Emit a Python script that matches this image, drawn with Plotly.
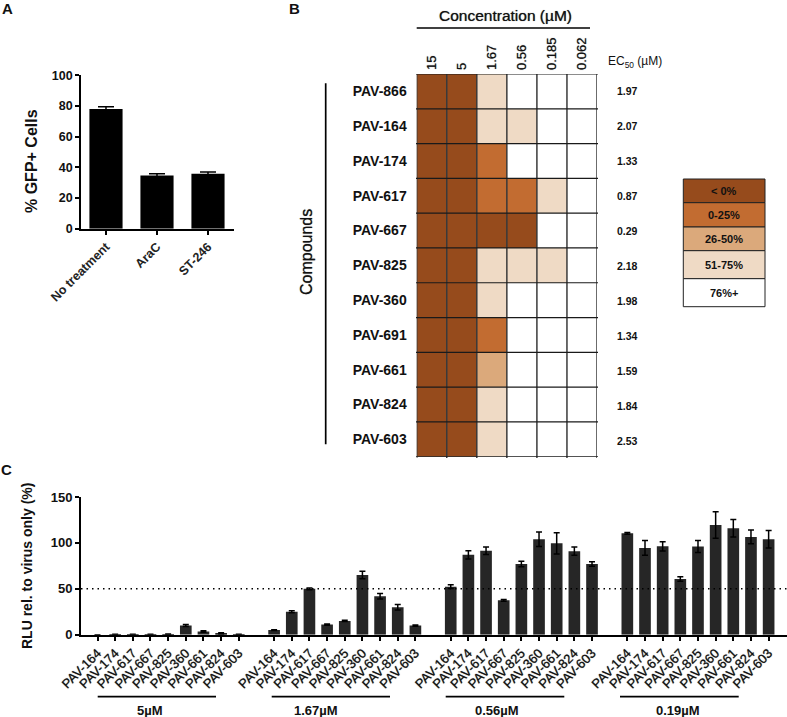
import plotly.graph_objects as go

W, H = 787, 717
FONT = "Liberation Sans"
HEAVY = "0 0 0.8px rgba(0,0,0,0.7)"

# Panel A
a_categories = ["No treatment", "AraC", "ST-246"]
a_values = [78, 34.7, 35.8]
a_errors = [1.5, 1.2, 1.2]

# Panel B
b_concentrations = ["15", "5", "1.67", "0.56", "0.185", "0.062"]
b_compounds = ["PAV-866", "PAV-164", "PAV-174", "PAV-617", "PAV-667", "PAV-825",
               "PAV-360", "PAV-691", "PAV-661", "PAV-824", "PAV-603"]
b_ec50 = ["1.97", "2.07", "1.33", "0.87", "0.29", "2.18", "1.98", "1.34", "1.59", "1.84", "2.53"]
# 0: <0%, 1: 0-25%, 2: 26-50%, 3: 51-75%, 4: 76%+
b_classes = [
    [0, 0, 3, 4, 4, 4],
    [0, 0, 3, 3, 4, 4],
    [0, 0, 1, 4, 4, 4],
    [0, 0, 1, 1, 3, 4],
    [0, 0, 0, 0, 4, 4],
    [0, 0, 3, 3, 3, 4],
    [0, 0, 3, 4, 4, 4],
    [0, 0, 1, 4, 4, 4],
    [0, 0, 2, 4, 4, 4],
    [0, 0, 3, 4, 4, 4],
    [0, 0, 3, 4, 4, 4],
]
legend_labels = ["< 0%", "0-25%", "26-50%", "51-75%", "76%+"]
legend_colors = ["#964B1C", "#C26C31", "#DBA97B", "#EFDAC5", "#FFFFFF"]

# Panel C
c_compounds = ["PAV-164", "PAV-174", "PAV-617", "PAV-667", "PAV-825",
               "PAV-360", "PAV-661", "PAV-824", "PAV-603"]
c_groups = ["5µM", "1.67µM", "0.56µM", "0.19µM"]
c_5 = [0, 0.2, 0.2, 0.2, 0.4, 10, 3.5, 1.5, 0.2]
c_5_err = [0, 0.3, 0.3, 0.3, 0.4, 1, 0.8, 0.7, 0.3]
c_167 = [5, 25, 50, 11, 15, 65, 42, 30, 10]
c_167_err = [0.5, 1, 1, 0.7, 0.7, 4, 3, 3, 0.7]
c_056 = [52.3, 87, 91.5, 37.4, 77, 104, 99.5, 91, 77]
c_056_err = [2, 4.5, 4, 1, 3, 8, 11.5, 4.5, 2.5]
c_019 = [110.4, 94.5, 96.3, 60.7, 96, 119.5, 116, 106.5, 104]
c_019_err = [1, 8, 5, 2.5, 6.5, 14.5, 9.5, 7.5, 9.5]


def dx(a, b):
    return [a / W, b / W]


def dy(top, bottom):
    return [1 - bottom / H, 1 - top / H]


def px(x):
    return x / W


def py(y):
    return 1 - y / H


fig = go.Figure()

# Panel A
fig.add_trace(go.Bar(
    x=list(range(3)), y=a_values, width=0.65, marker=dict(color="#000000", line_width=0),
    error_y=dict(type="data", array=a_errors, color="#000000", thickness=1.5, width=8),
    xaxis="x", yaxis="y", showlegend=False))

# Panel B
fig.add_trace(go.Heatmap(
    z=b_classes, x=[i + 0.5 for i in range(6)], y=[i + 0.5 for i in range(11)],
    zmin=0, zmax=4, showscale=False, hoverinfo="skip",
    colorscale=[[i / 5 if j == 0 else (i + 1) / 5, c] for i, c in enumerate(legend_colors) for j in (0, 1)],
    xaxis="x2", yaxis="y2"))

# Panel C
c_vals = c_5 + [None] + c_167 + [None] + c_056 + [None] + c_019
c_errs = c_5_err + [0] + c_167_err + [0] + c_056_err + [0] + c_019_err
c_x = list(range(len(c_vals)))
fig.add_trace(go.Bar(
    x=c_x, y=c_vals, width=0.66, marker=dict(color="#262626", line_width=0),
    error_y=dict(type="data", array=c_errs, color="#000000", thickness=1.5, width=3),
    xaxis="x3", yaxis="y3", showlegend=False))
C_LEFT, C_RIGHT = -0.934, 39.04
fig.add_trace(go.Scatter(
    x=[C_LEFT, C_RIGHT], y=[50, 50], mode="lines", hoverinfo="skip",
    line=dict(color="#000000", width=1.5, dash="1.5px,4px"),
    xaxis="x3", yaxis="y3", showlegend=False))

axis_common = dict(showline=True, linecolor="#000000", linewidth=1.7, ticks="outside", automargin=False,
                   ticklen=4, tickwidth=1.5, tickcolor="#000000", showgrid=False, zeroline=False)

shapes = []
annotations = []


def text(x, y, s, size=12, bold=True, angle=0, color="#111111", shadow="none"):
    annotations.append(dict(xref="paper", yref="paper", x=px(x), y=py(y), text=f"<b>{s}</b>" if bold else s,
                            showarrow=False, textangle=angle, xanchor="center", yanchor="middle",
                            font=dict(family=FONT, size=size, color=color, shadow=shadow)))


def line(x0, y0, x1, y1, color="#000000", width=1.7):
    shapes.append(dict(type="line", xref="paper", yref="paper", x0=px(x0), x1=px(x1), y0=py(y0), y1=py(y1),
                       line=dict(color=color, width=width)))


# Panel B grid
for i in range(7):
    shapes.append(dict(type="line", xref="x2", yref="paper", x0=i, x1=i, y0=py(74), y1=py(458),
                       line=dict(color="#3a3a3a", width=1.5)))
for i in range(12):
    shapes.append(dict(type="line", xref="paper", yref="y2", x0=px(416), x1=px(598), y0=i, y1=i,
                       line=dict(color="#1a1a1a", width=1.2)))

# Panel B header and brackets
line(416.7, 28, 590, 28)
line(325.7, 83.3, 325.7, 444.3)
text(505.7, 15, "Concentration (µM)", size=15.5, bold=False, shadow=HEAVY)
text(635, 62, "EC<sub>50</sub> (µM)", size=12, bold=False)
text(306, 252, "Compounds", size=16, bold=False, angle=-90, shadow=HEAVY)
for i, val in enumerate(b_ec50):
    text(627, 91.5 + i * 34.95, val, size=10.5)

# Legend
legend_edges = [179, 202.7, 227, 250.7, 278.7, 306.7]
for i, (lab, col) in enumerate(zip(legend_labels, legend_colors)):
    shapes.append(dict(type="rect", xref="paper", yref="paper", x0=px(683.3), x1=px(765),
                       y0=py(legend_edges[i]), y1=py(legend_edges[i + 1]), fillcolor=col,
                       line=dict(color="#222222", width=1)))
    text(724, (legend_edges[i] + legend_edges[i + 1]) / 2, lab, size=11)

# Panel C group brackets
for (x0, x1), lab, lx in zip([(97.7, 216), (271.7, 390), (445.7, 564.3), (620, 738.7)], c_groups,
                             [150, 316, 497, 678]):
    line(x0, 696.7, x1, 696.7)
    text(lx, 710, lab, size=13)

# Titles and panel letters
text(32, 161, "% GFP+ Cells", size=16, angle=-90)
text(27, 566, "RLU rel. to virus only (%)", size=14, angle=-90)
text(7, 9, "A", size=15)
text(294, 9, "B", size=15)
text(6, 469, "C", size=15)

fig.update_layout(
    width=W, height=H, autosize=False, margin=dict(l=0, r=0, t=0, b=0),
    paper_bgcolor="#FFFFFF", plot_bgcolor="rgba(0,0,0,0)",
    font=dict(family=FONT, color="#111111"), bargap=0.3, barmode="overlay",
    shapes=shapes, annotations=annotations,
    xaxis=dict(domain=dx(81, 234), range=[-0.49, 2.51], anchor="y", tickvals=[0, 1, 2],
               ticktext=[f"<b>{c}</b>" for c in a_categories], tickangle=-45,
               tickfont=dict(size=12.5, family=FONT, color="#222222"), **axis_common),
    yaxis=dict(domain=dy(75.3, 228.7), range=[0, 100], anchor="x", tickvals=[0, 20, 40, 60, 80, 100],
               ticktext=[f"<b>{v}</b>" for v in (0, 20, 40, 60, 80, 100)],
               tickfont=dict(size=12.5, family=FONT), **axis_common),
    xaxis2=dict(domain=dx(416.7, 597), range=[0, 6], anchor="y2", side="top", automargin=False,
                tickvals=[i + 0.5 for i in range(6)], ticktext=b_concentrations, tickangle=-90,
                tickfont=dict(size=13, family=FONT, shadow=HEAVY), showgrid=False, zeroline=False, showline=False,
                ticks="", ticklabelstandoff=3),
    yaxis2=dict(domain=dy(74, 456.7), range=[11, 0], anchor="x2", automargin=False,
                tickvals=[i + 0.5 for i in range(11)], ticktext=[f"<b>{c}</b>" for c in b_compounds],
                tickfont=dict(size=14, family=FONT), showgrid=False, zeroline=False, showline=False,
                ticks="", ticklabelstandoff=9),
    xaxis3=dict(domain=dx(81, 787), range=[C_LEFT, C_RIGHT], anchor="y3",
                tickvals=[i for i, v in enumerate(c_vals) if v is not None],
                ticktext=c_compounds * 4, tickangle=-45,
                tickfont=dict(size=13, family=FONT, shadow=HEAVY), **axis_common),
    yaxis3=dict(domain=dy(497, 634.7), range=[0, 150], anchor="x3", tickvals=[0, 50, 100, 150],
                ticktext=[f"<b>{v}</b>" for v in (0, 50, 100, 150)],
                tickfont=dict(size=13, family=FONT), **axis_common),
)

fig.write_html("out.html", config={"displayModeBar": False}, post_script="document.body.style.margin='0';")
